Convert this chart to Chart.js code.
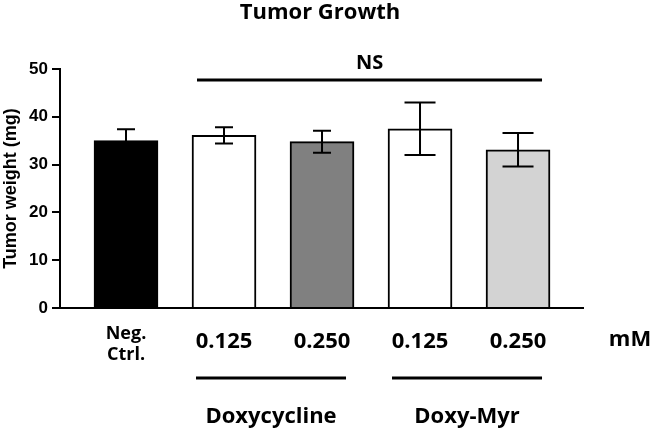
<!DOCTYPE html>
<html>
<head>
<meta charset="utf-8">
<script src="https://cdn.jsdelivr.net/npm/chart.js@4.4.1/dist/chart.umd.min.js"></script>
<style>
  html, body { margin: 0; padding: 0; background: #fff; }
  #wrap { width: 653px; height: 432px; position: relative; }
</style>
</head>
<body>
<div id="wrap"><canvas id="tumorChart"></canvas></div>
<script>
// data
const categories = [['Neg.', 'Ctrl.'], '0.125', '0.250', '0.125', '0.250'];
const meanWeight = [35.0, 36.1, 34.8, 37.5, 33.1];
const errWeight = [2.4, 1.7, 2.3, 5.5, 3.5];
const barColors = ['#000000', '#ffffff', '#808080', '#ffffff', '#d3d3d3'];
const capWidths = [18, 18, 18, 31, 31];
const yTicks = [0, 10, 20, 30, 40, 50];

const groupLabels = ['Doxycycline', 'Doxy-Myr'];
const groupStart = [1, 3];
const groupEnd = [2, 4];
const unitLabel = 'mM';
const sigLabel = 'NS';
const sigFrom = 1;
const sigTo = 4;
const sigLevel = 47.7;

const boldSans = "'Open Sans', 'DejaVu Sans', sans-serif";
const arialBold = "'Liberation Sans', Arial, sans-serif";

// error bars + annotations
const extrasPlugin = {
    id: 'extras',
    afterDatasetsDraw(chart) {
        const c = chart.ctx;
        const x = chart.scales.x;
        const y = chart.scales.y;
        c.save();
        c.strokeStyle = '#000';
        c.lineWidth = 2;
        meanWeight.forEach(function(m, i) {
            const px = x.getPixelForValue(i);
            const top = y.getPixelForValue(m + errWeight[i]);
            const bot = y.getPixelForValue(m - errWeight[i]);
            const hw = capWidths[i] / 2;
            c.beginPath();
            c.moveTo(px, top); c.lineTo(px, bot);
            c.moveTo(px - hw, top); c.lineTo(px + hw, top);
            c.moveTo(px - hw, bot); c.lineTo(px + hw, bot);
            c.stroke();
        });
        c.restore();
    },
    afterDraw(chart) {
        const c = chart.ctx;
        const x = chart.scales.x;
        const y = chart.scales.y;
        c.save();
        c.fillStyle = '#000';
        c.strokeStyle = '#000';
        c.textAlign = 'center';
        c.textBaseline = 'middle';

        c.font = "bold 22px " + boldSans;
        c.fillText('Tumor Growth', 320, 13);

        // significance line
        const sy = y.getPixelForValue(sigLevel);
        const sx1 = x.getPixelForValue(sigFrom) - 27;
        const sx2 = x.getPixelForValue(sigTo) + 24;
        c.lineWidth = 3;
        c.beginPath(); c.moveTo(sx1, sy); c.lineTo(sx2, sy); c.stroke();
        c.font = "bold 20px " + boldSans;
        c.fillText(sigLabel, (sx1 + sx2) / 2, sy - 17);

        // group brackets under the axis
        c.font = "bold 22px " + boldSans;
        groupLabels.forEach(function(lbl, g) {
            const gx1 = x.getPixelForValue(groupStart[g]) - 28;
            const gx2 = x.getPixelForValue(groupEnd[g]) + 24;
            c.lineWidth = 3;
            c.beginPath(); c.moveTo(gx1, 378); c.lineTo(gx2, 378); c.stroke();
            c.fillText(lbl, (gx1 + gx2) / 2, 417);
        });

        c.fillText(unitLabel, 630, 340);
        c.restore();
    }
};

const ctx = document.getElementById('tumorChart').getContext('2d');
new Chart(ctx, {
    type: 'bar',
    data: {
        datasets: [{
            data: meanWeight.map(function(v, i) { return { x: i, y: v }; }),
            backgroundColor: barColors,
            borderColor: '#000',
            borderWidth: 2,
            barThickness: 64
        }]
    },
    options: {
        responsive: true,
        maintainAspectRatio: false,
        animation: false,
        layout: { padding: { top: 69, right: 70, bottom: 0, left: 0 } },
        plugins: {
            legend: { display: false },
            tooltip: { enabled: false }
        },
        scales: {
            x: {
                type: 'linear',
                offset: false,
                min: -0.6735,
                max: 4.663,
                grid: { display: false },
                border: { display: true, color: '#000', width: 2 },
                afterBuildTicks: function(scale) {
                    scale.ticks = categories.map(function(c, i) { return { value: i }; });
                },
                afterFit: function(scale) { scale.height = 124; },
                ticks: {
                    autoSkip: false,
                    maxRotation: 0,
                    padding: 8,
                    color: '#000',
                    callback: function(v) { return categories[v]; },
                    font: function(c) {
                        return c.index === 0
                            ? { family: boldSans, size: 18, weight: 'bold', lineHeight: 1.15 }
                            : { family: boldSans, size: 22, weight: 'bold', lineHeight: 1.6 };
                    }
                }
            },
            y: {
                min: 0,
                max: 50,
                afterBuildTicks: function(scale) {
                    scale.ticks = yTicks.map(function(v) { return { value: v }; });
                },
                afterFit: function(scale) { scale.width = 60; },
                grid: {
                    drawOnChartArea: false,
                    drawTicks: true,
                    tickLength: 8,
                    color: '#000',
                    lineWidth: 2
                },
                border: { display: true, color: '#000', width: 2 },
                ticks: {
                    padding: 4,
                    color: '#000',
                    font: { family: arialBold, size: 17, weight: 'bold' }
                },
                title: {
                    display: true,
                    text: 'Tumor weight (mg)',
                    color: '#000',
                    padding: { top: 0, bottom: 0 },
                    font: { family: arialBold, size: 18, weight: 'bold' }
                }
            }
        }
    },
    plugins: [extrasPlugin]
});
</script>
</body>
</html>
